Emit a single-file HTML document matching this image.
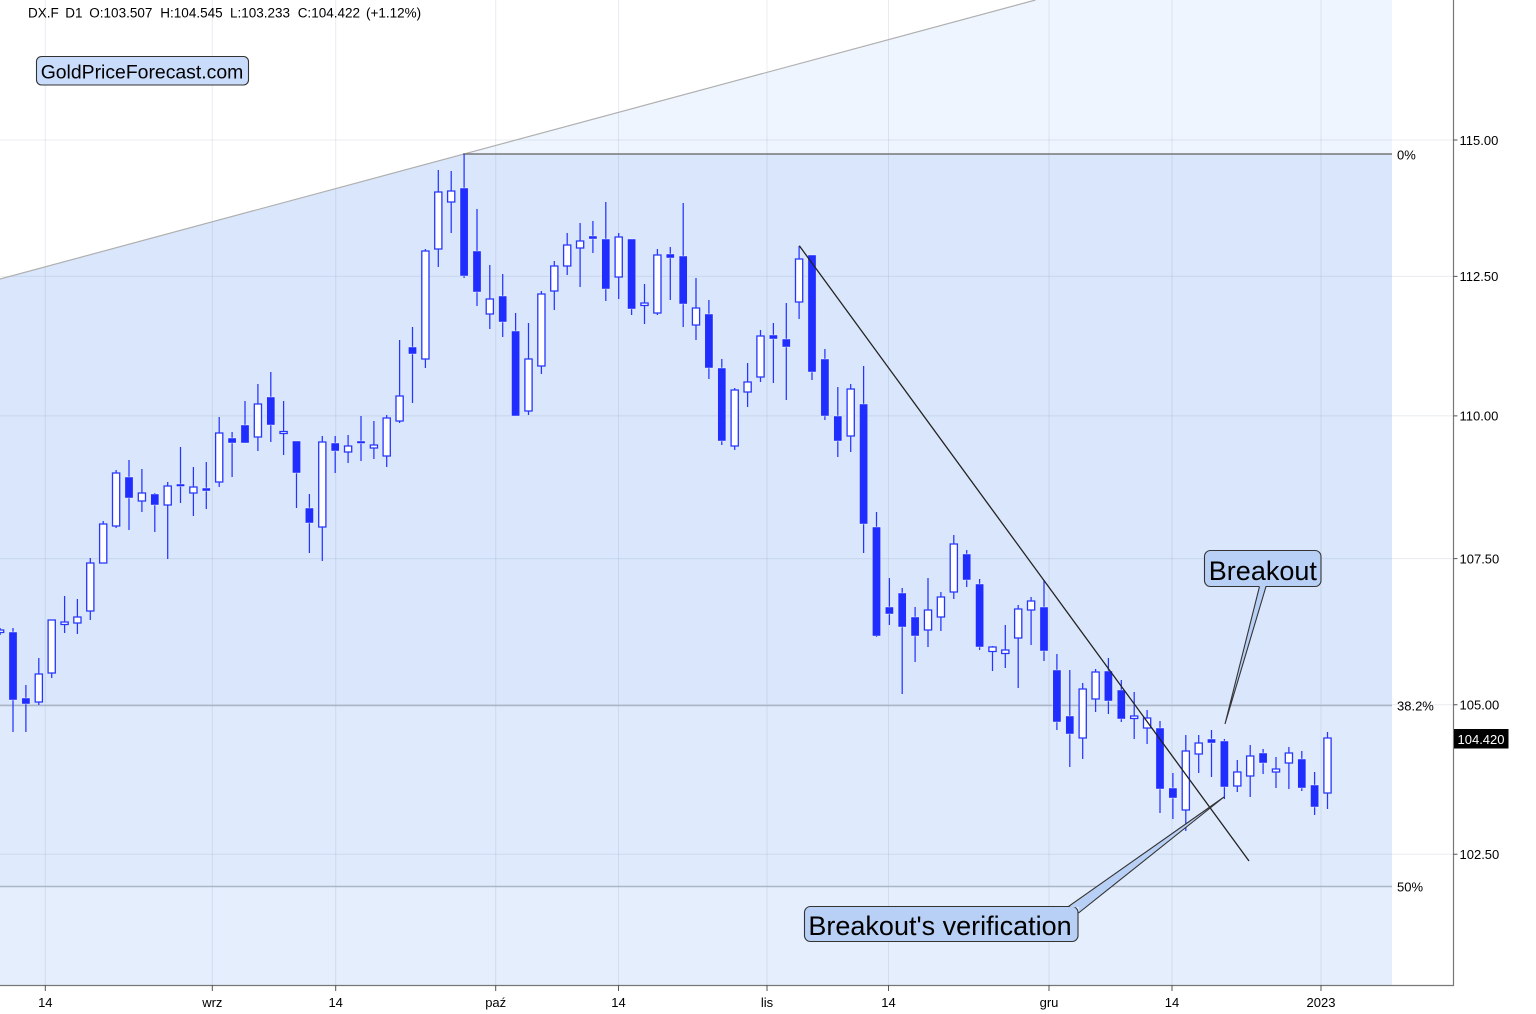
<!DOCTYPE html>
<html><head><meta charset="utf-8"><style>
html,body{margin:0;padding:0;background:#fff;width:1536px;height:1014px;overflow:hidden}
svg{display:block;font-family:"Liberation Sans",Arial,sans-serif}
</style></head><body>
<svg width="1536" height="1014" viewBox="0 0 1536 1014" xmlns="http://www.w3.org/2000/svg">
<defs><clipPath id="below"><polygon points="0,279 1035.5,0 1392,0 1392,985 0,985"/></clipPath></defs>
<rect width="1536" height="1014" fill="#fff"/>
<g clip-path="url(#below)">
<rect x="0" y="0" width="1392" height="154" fill="#eef5fe"/>
<rect x="0" y="154" width="1392" height="551.5" fill="#d9e6fb"/>
<rect x="0" y="705.5" width="1392" height="181" fill="#dfeafc"/>
<rect x="0" y="886.5" width="1392" height="99" fill="#e4eefd"/>
</g>
<g stroke="rgba(110,135,170,0.16)" stroke-width="1">
<path d="M45.3 0V985M212.3 0V985M335.7 0V985M495.7 0V985M618.5 0V985M767 0V985M888.5 0V985M1049 0V985M1172 0V985M1321 0V985"/>
<path d="M0 140H1453M0 276.4H1453M0 415.9H1453M0 558.6H1453M0 704.7H1453M0 854.3H1453"/>
</g>
<line x1="0" y1="279" x2="1035.5" y2="0" stroke="#b0b0b0" stroke-width="1.2"/>
<line x1="463" y1="154" x2="1392" y2="154" stroke="#777" stroke-width="1.6"/>
<line x1="0" y1="705.5" x2="1392" y2="705.5" stroke="#aab6c6" stroke-width="1.4"/>
<line x1="0" y1="886.5" x2="1392" y2="886.5" stroke="#aab6c6" stroke-width="1.4"/>
<path fill="none" stroke="#2636ff" stroke-width="1.25" d="M0.1 628V635M13 628V732M25.9 685V732M38.8 658V705M51.7 620V678M64.6 596V633M77.4 599V634M90.3 558V620M103.2 521V563M116.1 470V528M129 460V530M141.9 469V512M154.8 493V532M167.7 482V559M180.5 447V503M193.4 467V516M206.3 462V509M219.2 417V487M232.1 432V477M245 401V443M257.9 384V451M270.8 372V442M283.6 401V455M296.5 441V508M309.4 494V553M322.3 436V561M335.2 436V473M348.1 435V463M361 416V461M373.9 421V459M386.7 415V467M399.6 340V423M412.5 327V403M425.4 249V368M438.3 170V267M451.2 171V233M464.1 154V278M477 209V306M489.8 265V329M502.7 274V337M515.6 313V416M528.5 323V415M541.4 291V374M554.3 261V310M567.2 233V275M580.1 223V287M592.9 221V253M605.8 202V301M618.7 233V299M631.6 239V315M644.5 284V324M657.4 249V315M670.3 247V300M683.2 203V327M696 278V340M708.9 300V379M721.8 359V445M734.7 388V450M747.6 363V407M760.5 330V382M773.4 323V383M786.3 303V400M799.1 246V319M812 255V380M824.9 349V420M837.8 387V457M850.7 384V452M863.6 366V553M876.5 512V637M889.4 578V625M902.2 588V694M915.1 607V662M928 578V647M940.9 592V631M953.8 535V599M966.7 550V587M979.6 579V650M992.5 646V671M1005.3 625V668M1018.2 605V688M1031.1 597V645M1044 580V661M1056.9 654V730M1069.8 670V767M1082.7 683V759M1095.6 669V712M1108.4 658V714M1121.3 680V722M1134.2 692V739M1147.1 710V744M1160 721V813M1172.9 773V819M1185.8 735V831M1198.7 735V773M1211.5 730V777M1224.4 739V799M1237.3 760V792M1250.2 745V797M1263.1 749V774M1276 757V788M1288.9 747V789M1301.8 751V791M1314.6 772V815M1327.5 732V809"/>
<path fill="#1f2dff" stroke="#fff" stroke-width="0.4" d="M8.9 632h8.2v68h-8.2zM21.8 698h8.2v6h-8.2zM124.9 477h8.2v21h-8.2zM150.7 494h8.2v11h-8.2zM176.4 484h8.2v2.5h-8.2zM202.2 488h8.2v3h-8.2zM228 438h8.2v5h-8.2zM240.9 425h8.2v18h-8.2zM266.7 397h8.2v28h-8.2zM292.4 441h8.2v32h-8.2zM305.3 508h8.2v15h-8.2zM331.1 443h8.2v8h-8.2zM356.9 441h8.2v2.5h-8.2zM408.4 347h8.2v7h-8.2zM460 188h8.2v88h-8.2zM472.9 251h8.2v41h-8.2zM498.6 296h8.2v26h-8.2zM511.5 331h8.2v85h-8.2zM588.8 236h8.2v3h-8.2zM601.7 239h8.2v50h-8.2zM627.5 239h8.2v70h-8.2zM666.2 254h8.2v4h-8.2zM679.1 256h8.2v48h-8.2zM704.8 314h8.2v54h-8.2zM717.7 368h8.2v73h-8.2zM769.3 335h8.2v4h-8.2zM782.2 339h8.2v8h-8.2zM807.9 255h8.2v117h-8.2zM820.8 359h8.2v57h-8.2zM833.7 416h8.2v25h-8.2zM859.5 404h8.2v120h-8.2zM872.4 527h8.2v109h-8.2zM885.3 607h8.2v7h-8.2zM898.1 593h8.2v34h-8.2zM911 617h8.2v19h-8.2zM962.6 554h8.2v26h-8.2zM975.5 584h8.2v63h-8.2zM1039.9 607h8.2v44h-8.2zM1052.8 670h8.2v52h-8.2zM1065.7 716h8.2v18h-8.2zM1104.3 671h8.2v30h-8.2zM1117.2 690h8.2v29h-8.2zM1155.9 728h8.2v61h-8.2zM1168.8 788h8.2v10h-8.2zM1207.4 739h8.2v4h-8.2zM1220.3 741h8.2v46h-8.2zM1259 753h8.2v10h-8.2zM1297.7 759h8.2v29h-8.2zM1310.5 785h8.2v22h-8.2z"/>
<path fill="#fff" stroke="#2636ff" stroke-width="1.3" d="M-3.5 630h7.2v2.5h-7.2zM35.2 674h7.2v28h-7.2zM48.1 620h7.2v53h-7.2zM61 622h7.2v2.5h-7.2zM73.8 617h7.2v6h-7.2zM86.7 563h7.2v48h-7.2zM99.6 524h7.2v39h-7.2zM112.5 473h7.2v53h-7.2zM138.3 493h7.2v8h-7.2zM164.1 486h7.2v19h-7.2zM189.8 487h7.2v6h-7.2zM215.6 433h7.2v49h-7.2zM254.3 404h7.2v33h-7.2zM280 431.5h7.2v2h-7.2zM318.7 442h7.2v85h-7.2zM344.5 446h7.2v6h-7.2zM370.3 445h7.2v3h-7.2zM383.1 418h7.2v38h-7.2zM396 396h7.2v25h-7.2zM421.8 251h7.2v108h-7.2zM434.7 192h7.2v57h-7.2zM447.6 191h7.2v11h-7.2zM486.2 299h7.2v15h-7.2zM524.9 359h7.2v52h-7.2zM537.8 294h7.2v72h-7.2zM550.7 266h7.2v25h-7.2zM563.6 245h7.2v21h-7.2zM576.5 241h7.2v7h-7.2zM615.1 237h7.2v40h-7.2zM640.9 303h7.2v2.5h-7.2zM653.8 255h7.2v58h-7.2zM692.4 308h7.2v17h-7.2zM731.1 390h7.2v56h-7.2zM744 382h7.2v10h-7.2zM756.9 336h7.2v41h-7.2zM795.5 259h7.2v43h-7.2zM847.1 389h7.2v47h-7.2zM924.4 610h7.2v20h-7.2zM937.3 597h7.2v20h-7.2zM950.2 544h7.2v48h-7.2zM988.9 647h7.2v4.5h-7.2zM1001.7 650h7.2v3.5h-7.2zM1014.6 609h7.2v29h-7.2zM1027.5 601h7.2v9h-7.2zM1079.1 689h7.2v49h-7.2zM1092 672h7.2v27h-7.2zM1130.6 716h7.2v2.5h-7.2zM1143.5 718h7.2v10h-7.2zM1182.2 751h7.2v59h-7.2zM1195.1 743h7.2v11h-7.2zM1233.7 772h7.2v14h-7.2zM1246.6 756h7.2v20h-7.2zM1272.4 769h7.2v3h-7.2zM1285.3 753h7.2v10h-7.2zM1323.9 738h7.2v55h-7.2z"/>
<line x1="799.3" y1="245.7" x2="1249" y2="861" stroke="#222" stroke-width="1.3"/>
<!-- Breakout callout -->
<rect x="1204.5" y="550.5" width="116.5" height="36" rx="6" ry="6" fill="#b9d0f6" stroke="#333" stroke-width="1.1"/>
<polygon points="1259.5,585 1266,585 1225,724" fill="#b9d0f6"/>
<path d="M1259.5 586.5L1225 724L1266 586.5" fill="none" stroke="#333" stroke-width="1.1"/>
<text x="1208.8" y="580" font-size="27" fill="#000">Breakout</text>
<!-- Verification callout -->
<rect x="804.5" y="906.5" width="273.5" height="35" rx="6" ry="6" fill="#b9d0f6" stroke="#333" stroke-width="1.1"/>
<polygon points="1068.5,907.5 1224,797 1078.5,913 1079,907" fill="#b9d0f6"/>
<path d="M1068.5 906.5L1224 797L1078.5 913" fill="none" stroke="#333" stroke-width="1.1"/>
<text x="808.4" y="935" font-size="27" fill="#000">Breakout's verification</text>
<!-- logo -->
<rect x="36.5" y="56.5" width="212" height="28.5" rx="5" ry="5" fill="#c9dcfb" stroke="#333" stroke-width="1.1"/>
<text x="40.7" y="78.5" font-size="19.4" fill="#000">GoldPriceForecast.com</text>
<!-- header -->
<g font-size="13.5" fill="#000">
<text x="28" y="17.5">DX.F</text>
<text x="65.3" y="17.5">D1</text>
<text x="89.3" y="17.5">O:103.507</text>
<text x="160.3" y="17.5">H:104.545</text>
<text x="230" y="17.5">L:103.233</text>
<text x="297.7" y="17.5">C:104.422</text>
<text x="366" y="17.5">(+1.12%)</text>
</g>
<!-- axes -->
<path d="M1453.5 0V985.5H0" fill="none" stroke="#777" stroke-width="1.2"/>
<path d="M1453.5 140H1457.5M1453.5 276.4H1457.5M1453.5 415.9H1457.5M1453.5 558.6H1457.5M1453.5 704.7H1457.5M1453.5 854.3H1457.5" stroke="#555" stroke-width="1"/>
<path d="M45.3 985V991M212.3 985V991M335.7 985V991M495.7 985V991M618.5 985V991M767 985V991M888.5 985V991M1049 985V991M1172 985V991M1321 985V991" stroke="#555" stroke-width="1"/>
<g font-size="13" fill="#000">
<text x="1459.5" y="144.8">115.00</text>
<text x="1459.5" y="281.2">112.50</text>
<text x="1459.5" y="420.6">110.00</text>
<text x="1459.5" y="563.3">107.50</text>
<text x="1459.5" y="709.3">105.00</text>
<text x="1459.5" y="859.1">102.50</text>
<text x="1397" y="159.3">0%</text>
<text x="1397" y="710.7">38.2%</text>
<text x="1397" y="891.7">50%</text>
</g>
<rect x="1454" y="729" width="54.5" height="19.5" fill="#000"/>
<text x="1457.5" y="744" font-size="13" fill="#fff">104.420</text>
<g font-size="13" fill="#000" text-anchor="middle">
<text x="45.3" y="1007">14</text>
<text x="212.3" y="1007">wrz</text>
<text x="335.7" y="1007">14</text>
<text x="495.7" y="1007">paź</text>
<text x="618.5" y="1007">14</text>
<text x="767" y="1007">lis</text>
<text x="888.5" y="1007">14</text>
<text x="1049" y="1007">gru</text>
<text x="1172" y="1007">14</text>
<text x="1321" y="1007">2023</text>
</g>
</svg>
</body></html>
